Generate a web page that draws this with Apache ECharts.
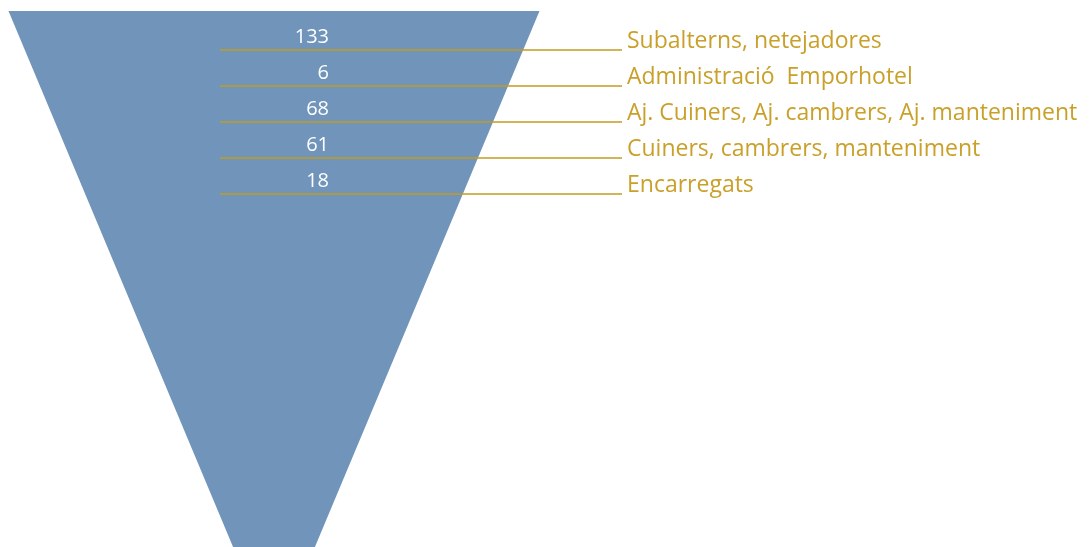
<!DOCTYPE html>
<html>
<head>
<meta charset="utf-8">
<script src="https://cdn.jsdelivr.net/npm/echarts@6/dist/echarts.min.js"></script>
<style>
  html, body { margin: 0; padding: 0; background: #fff; }
  #chart { width: 1092px; height: 547px; }
</style>
</head>
<body>
<div id="chart"></div>
<script>
var categories = [
  "Subalterns, netejadores",
  "Administració  Emporhotel",
  "Aj. Cuiners, Aj. cambrers, Aj. manteniment",
  "Cuiners, cambrers, manteniment",
  "Encarregats"
];
var values = [133, 6, 68, 61, 18];

var rows = categories.map(function (name, i) {
  return [i + 1, values[i], name];
});

var chart = echarts.init(document.getElementById("chart"));

chart.setOption({
  animation: false,
  grid: { left: 0, right: 0, top: 14, bottom: 0 },
  xAxis: { type: "value", min: 0, max: 1, show: false },
  yAxis: { type: "value", min: 0, max: 14.8, inverse: true, show: false },
  series: [
    {
      // funnel body
      type: "custom",
      silent: true,
      data: [[0, 0]],
      renderItem: function (params, api) {
        var cs = params.coordSys;
        var top = cs.y - 3;
        var bottom = cs.y + cs.height;
        var cx = 274;
        var halfTop = 265.5;
        var slope = 0.419;
        var halfBottom = halfTop - slope * (bottom - top);
        return {
          type: "polygon",
          shape: {
            points: [
              [cx - halfTop, top],
              [cx + halfTop, top],
              [cx + halfBottom, bottom],
              [cx - halfBottom, bottom]
            ]
          },
          style: { fill: "#7094BA" }
        };
      }
    },
    {
      // leader lines, values and names
      type: "custom",
      silent: true,
      data: rows,
      renderItem: function (params, api) {
        var y = api.coord([0, api.value(0)])[1];
        return {
          type: "group",
          children: [
            {
              type: "line",
              shape: { x1: 220, y1: y, x2: 622, y2: y },
              style: { stroke: "#C39B22", lineWidth: 1.6 }
            },
            {
              type: "text",
              style: {
                x: 329, y: y - 13,
                text: String(api.value(1)),
                fill: "#ffffff",
                font: '20px "Open Sans"',
                align: "right",
                verticalAlign: "middle"
              }
            },
            {
              type: "text",
              style: {
                x: 627, y: y - 9,
                text: categories[params.dataIndex],
                fill: "#C9A02A",
                font: '23px "Open Sans"',
                align: "left",
                verticalAlign: "middle"
              }
            }
          ]
        };
      }
    }
  ]
});
</script>
</body>
</html>
